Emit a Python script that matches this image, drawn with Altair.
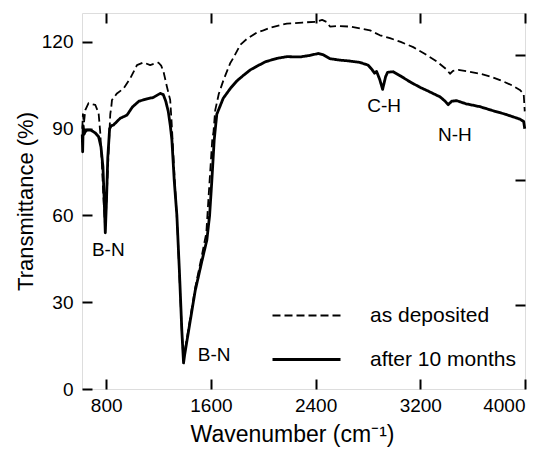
import altair as alt
import pandas as pd

FONT = "Liberation Sans"

series_names = ["as deposited", "after 10 months"]

wn_dep = [617, 622, 630, 640, 665, 690, 717, 742, 755, 768, 780, 793, 805, 818, 831, 839, 844,
          882, 933, 984, 1035, 1085, 1136, 1170, 1200, 1220, 1238, 1264, 1289, 1300, 1320, 1345,
          1365, 1380, 1390, 1400, 1440, 1480, 1530, 1565, 1590, 1610, 1620, 1633, 1660, 1696,
          1747, 1772, 1824, 1874, 1950, 2001, 2060, 2129, 2180, 2300, 2409, 2450, 2485, 2510,
          2580, 2663, 2740, 2816, 2892, 2968, 3050, 3146, 3230, 3325, 3400, 3427, 3450, 3490,
          3560, 3656, 3740, 3809, 3900, 3961, 3990, 3998]
tr_dep = [90, 95, 92, 96.4, 98.8, 98.5, 98.2, 95.3, 88.4, 76.8, 65, 55, 68, 82, 95, 97.6, 99.9,
          102.2, 103.9, 107.4, 112, 112.9, 112, 112.5, 112.8, 111.8, 109.7, 104.5, 99.9, 92, 75, 55,
          33, 18, 10, 13, 24, 35, 46, 54, 72, 86, 89, 96.4, 102, 106.8,
          112.6, 114.5, 119, 121, 123.2, 124, 125, 125.8, 126.3, 126.7, 127, 127.6, 126.9, 125.3,
          125.5, 125.3, 124.7, 124, 122.3, 121.3, 120, 118.2, 116, 113.3, 110.5, 109, 110, 110.3,
          109.8, 109, 108, 106.8, 105, 103.4, 102, 96]

wn_aged = [617, 620, 624, 630, 640, 653, 680, 704, 717, 742, 760, 775, 785, 793, 802, 812, 826,
           838, 856, 907, 959, 1000, 1050, 1111, 1160, 1213, 1236, 1255, 1274, 1290, 1302, 1320,
           1340, 1360, 1378, 1391, 1400, 1440, 1480, 1530, 1569, 1590, 1607, 1625, 1645, 1694,
           1750, 1798, 1850, 1900, 1951, 2020, 2104, 2180, 2281, 2350, 2421, 2460, 2510, 2587,
           2660, 2739, 2800, 2830, 2850, 2866, 2890, 2912, 2935, 2950, 2993, 3050, 3121, 3198,
           3260, 3351, 3390, 3413, 3440, 3477, 3550, 3656, 3757, 3850, 3961, 3990, 3998]
tr_aged = [88, 82, 91, 88, 89, 89.5, 89.5, 88.9, 88.5, 87.2, 83.7, 76.8, 65, 54, 65, 80, 90,
           91, 91.3, 93.6, 94.7, 97.5, 99.5, 100.3, 100.8, 102.2, 101.8, 99.5, 96, 91, 86, 72,
           60, 40, 20, 9, 12, 23, 34, 44, 51.5, 60, 72, 86, 95, 100.5,
           104, 106.5, 108.5, 110.3, 111.6, 113.2, 114.3, 114.9, 114.8, 115.3, 116, 115.5, 114.2, 113.7,
           113.4, 112.9, 112, 110.5, 109.2, 109.8, 107, 103.6, 108, 109.5, 109.7, 108.2, 106.2, 104.3,
           103, 101, 99.5, 98.3, 99.5, 99.7, 98.6, 97.6, 96.2, 95, 93.3, 92.5, 90]

x_ticks = [800, 1600, 2400, 3200, 4000]
y_ticks = [0, 30, 60, 90, 120]
right_ticks = [29, 72.2, 115.4]

ann_text = ["B-N", "B-N", "C-H", "N-H"]
ann_x = [816, 1625, 2923, 3464]
ann_y = [48, 11.8, 97.8, 87.8]

df = pd.concat([
    pd.DataFrame({"wn": wn_dep, "tr": tr_dep, "series": series_names[0]}),
    pd.DataFrame({"wn": wn_aged, "tr": tr_aged, "series": series_names[1]}),
])
df_ann = pd.DataFrame({"x": ann_x, "y": ann_y, "t": ann_text})

xscale = alt.Scale(domain=[615, 4000], nice=False, zero=False)
yscale = alt.Scale(domain=[0, 130], nice=False, zero=False)

tick_common = dict(offset=-10, tickSize=10, tickWidth=2, tickColor="black", domain=False,
                   grid=False, labelColor="black", titleColor="black", labelFont=FONT,
                   titleFont=FONT, titleFontWeight="normal", format="d")

legend = alt.Legend(orient="none", legendX=214, legendY=292, title=None, labelFontSize=21,
                    labelFont=FONT, labelColor="black", symbolType="M-4,0H4", symbolSize=289,
                    symbolStrokeColor="black", labelOffset=53, rowPadding=22)

lines = alt.Chart(df).mark_line(color="black", strokeJoin="round").encode(
    x=alt.X("wn:Q", scale=xscale,
            axis=alt.Axis(values=x_ticks, orient="bottom", labelFontSize=19, labelPadding=7,
                          title="Wavenumber (cm⁻¹)", titleFontSize=23, titlePadding=8,
                          titleX=210, **tick_common)),
    y=alt.Y("tr:Q", scale=yscale,
            axis=alt.Axis(values=y_ticks, orient="left", labelFontSize=19, labelPadding=9,
                          title="Transmittance (%)", titleFontSize=22, titlePadding=4,
                          **tick_common)),
    strokeDash=alt.StrokeDash("series:N",
                              scale=alt.Scale(domain=series_names, range=[[8, 4], [1, 0]]),
                              legend=legend),
    strokeWidth=alt.StrokeWidth("series:N",
                                scale=alt.Scale(domain=series_names, range=[1.8, 2.8]),
                                legend=legend),
)

ann = alt.Chart(df_ann).mark_text(fontSize=19, font=FONT, color="black").encode(
    x=alt.X("x:Q", scale=xscale,
            axis=alt.Axis(values=x_ticks, orient="top", labels=False, title=None, **tick_common)),
    y=alt.Y("y:Q", scale=yscale,
            axis=alt.Axis(values=right_ticks, orient="right", labels=False, title=None,
                          **tick_common)),
    text="t:N",
)

chart = alt.layer(lines, ann).resolve_axis(x="independent", y="independent").properties(
    width=443, height=376,
    padding={"left": 82, "top": 13, "right": 23, "bottom": 67},
    autosize=alt.AutoSizeParams(type="none"),
).configure_view(stroke="black", strokeWidth=2).configure(background="white")

chart.save("out.html", embed_options={"renderer": "svg", "actions": False})
